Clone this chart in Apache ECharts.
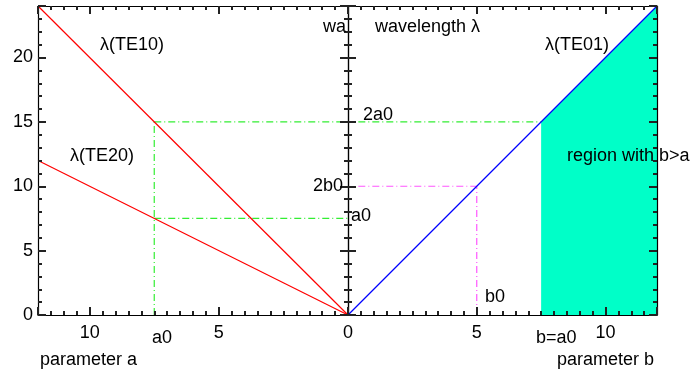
<!DOCTYPE html>
<html>
<head>
<meta charset="utf-8">
<script src="https://cdn.jsdelivr.net/npm/echarts@6/dist/echarts.min.js"></script>
<style>
  html, body { margin: 0; padding: 0; background: #fff; }
  #chart { width: 691px; height: 372px; }
</style>
</head>
<body>
<div id="chart"></div>
<script>
// axis ranges
const xMax = 12
const yMax = 24

// lines, [x, y] pairs
const te10 = [[12, 24], [0, 0]]
const te20 = [[12, 12], [0, 0]]
const te01 = [[0, 0], [12, 24]]
const regionB = [[7.5, 15], [12, 24]]
const a0Vert = [[7.5, 0], [7.5, 15]]
const a0Top = [[7.5, 15], [0, 15]]
const a0Mid = [[7.5, 7.5], [0, 7.5]]
const twoA0Right = [[0.4, 15], [7.5, 15]]
const b0Horiz = [[0.4, 10], [5, 10]]
const b0Vert = [[5, 0], [5, 10]]

const font = 'Liberation Sans'
const green = '#33ee33'
const magenta = '#ff55ff'
const dashDot = [7, 3, 1, 3]

// one axis per side, major every 5, minor ticks in between
const makeAxis = (grid, pos, max, minorSplit, inverse, labels) => ({
  type: 'value',
  gridIndex: grid,
  position: pos,
  min: 0,
  max: max,
  interval: 5,
  inverse: inverse,
  z: 10,
  splitLine: { show: false },
  minorSplitLine: { show: false },
  axisLine: { show: true, onZero: false, lineStyle: { color: '#000', width: 1.2 } },
  axisTick: { show: true, inside: true, length: 8, lineStyle: { color: '#222', width: 2 } },
  minorTick: { show: true, splitNumber: minorSplit, length: 4, lineStyle: { color: '#222', width: 2 } },
  axisLabel: labels
    ? {
        show: true,
        fontSize: 18,
        fontFamily: font,
        color: '#000',
        margin: pos === 'bottom' ? 9 : 5,
        formatter: labels
      }
    : { show: false }
})

const leftXLabels = (v) => (v === 5 || v === 10 ? String(v) : '')
const rightXLabels = (v) => (v === 0 || v === 5 || v === 10 ? String(v) : '')
const yLabels = (v) => (v % 5 === 0 && v < yMax ? String(v) : '')

const xAxis = [
  makeAxis(0, 'bottom', xMax, 10, true, leftXLabels), // 0
  makeAxis(0, 'top', xMax, 10, true, null), // 1
  makeAxis(1, 'bottom', xMax, 10, false, rightXLabels), // 2
  makeAxis(1, 'top', xMax, 10, false, null) // 3
]
const yAxis = [
  makeAxis(0, 'left', yMax, 5, false, yLabels), // 0
  makeAxis(0, 'right', yMax, 5, false, null), // 1
  makeAxis(1, 'left', yMax, 5, false, null), // 2
  makeAxis(1, 'right', yMax, 5, false, null) // 3
]

const line = (grid, data, color, type, extra) => ({
  type: 'line',
  xAxisIndex: grid * 2,
  yAxisIndex: grid * 2,
  data: data,
  symbol: 'none',
  animation: false,
  lineStyle: { color: color, width: 1.2, type: type || 'solid' },
  ...extra
})

const text = (x, y, s) => ({
  type: 'text',
  x: x,
  y: y,
  z: 100,
  style: {
    text: s,
    font: '18px "' + font + '"',
    fill: '#000',
    verticalAlign: 'middle'
  }
})

const chart = echarts.init(document.getElementById('chart'))
chart.setOption({
  animation: false,
  textStyle: { fontFamily: font },
  grid: [
    { left: 38, top: 6, width: 310, height: 309 },
    { left: 348, top: 6, width: 309, height: 309 }
  ],
  xAxis: xAxis,
  yAxis: yAxis,
  series: [
    line(1, regionB, '#00ffc8', 'solid', {
      areaStyle: { color: '#00ffc8', opacity: 1 },
      lineStyle: { width: 0 },
      z: 1
    }),
    line(0, a0Vert, green, dashDot),
    line(0, a0Top, green, dashDot),
    line(0, a0Mid, green, dashDot),
    line(1, twoA0Right, green, dashDot),
    line(1, b0Horiz, magenta, dashDot),
    line(1, b0Vert, magenta, dashDot),
    line(0, te10, '#ff0000'),
    line(0, te20, '#ff0000'),
    line(1, te01, '#0000ff', 'solid', { z: 5 })
  ],
  graphic: [
    text(100, 45, 'λ(TE10)'),
    text(70, 156, 'λ(TE20)'),
    text(323, 27, 'wa'),
    text(375, 27, 'wavelength λ'),
    text(545, 45, 'λ(TE01)'),
    text(363, 115, '2a0'),
    text(313, 186, '2b0'),
    text(351, 216, 'a0'),
    text(485, 297, 'b0'),
    text(567, 156, 'region with b>a'),
    text(152, 338, 'a0'),
    text(536, 338, 'b=a0'),
    text(40, 360, 'parameter a'),
    text(557, 360, 'parameter b')
  ]
})
</script>
</body>
</html>
